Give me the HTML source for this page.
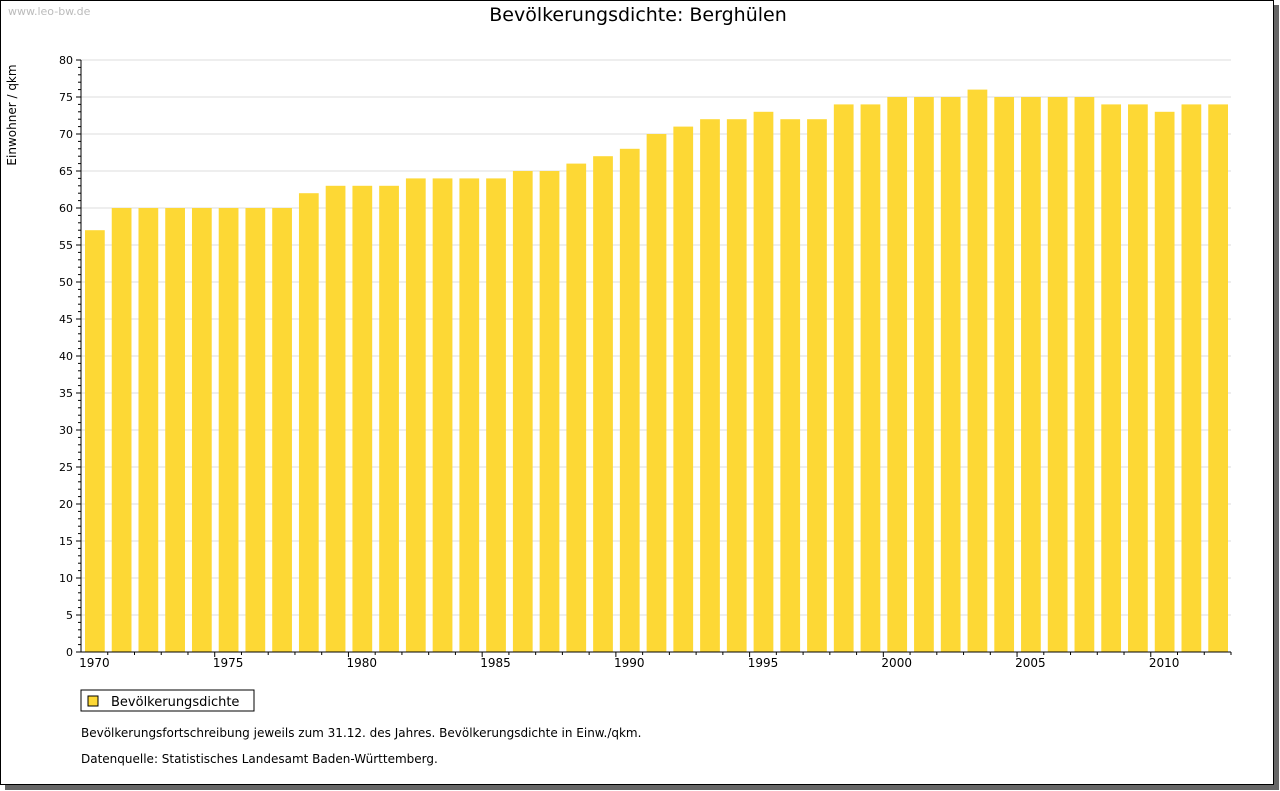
<!DOCTYPE html>
<html><head><meta charset="utf-8">
<style>
body{margin:0;background:#fff;width:1280px;height:791px;overflow:hidden;font-family:"DejaVu Sans","Liberation Sans",sans-serif;}
#frame{position:absolute;left:0;top:0;width:1272px;height:783px;border:1px solid #000;background:#fff;box-shadow:5px 5px 0 #666;}
svg{position:absolute;left:0;top:0}
</style></head><body>
<div id="frame"></div>
<svg id="chart" width="1280" height="791">
<text x="8" y="15" font-size="11" fill="#bbb">www.leo-bw.de</text>
<text x="638" y="21" font-size="19" text-anchor="middle">Bevölkerungsdichte: Berghülen</text>
<text transform="translate(16,115) rotate(-90)" font-size="12" text-anchor="middle">Einwohner / qkm</text>
<g id="grid"></g><g id="bars"></g><g id="axes"></g>
<rect x="81" y="690" width="173" height="21" fill="#fff" stroke="#000"/>
<rect x="88" y="696" width="10" height="10" fill="#fdd835" stroke="#000"/>
<text x="111" y="706" font-size="13">Bevölkerungsdichte</text>
<text x="81" y="737" font-size="12">Bevölkerungsfortschreibung jeweils zum 31.12. des Jahres. Bevölkerungsdichte in Einw./qkm.</text>
<text x="81" y="763" font-size="12">Datenquelle: Statistisches Landesamt Baden-Württemberg.</text>
</svg>
<script>
const years=[1970,1971,1972,1973,1974,1975,1976,1977,1978,1979,1980,1981,1982,1983,1984,1985,1986,1987,1988,1989,1990,1991,1992,1993,1994,1995,1996,1997,1998,1999,2000,2001,2002,2003,2004,2005,2006,2007,2008,2009,2010,2011,2012];
const values=[57,60,60,60,60,60,60,60,62,63,63,63,64,64,64,64,65,65,66,67,68,70,71,72,72,73,72,72,74,74,75,75,75,76,75,75,75,75,74,74,73,74,74];
const yTicks=[0,5,10,15,20,25,30,35,40,45,50,55,60,65,70,75,80];
const NS="http://www.w3.org/2000/svg";
const L=81,R=1231,T=60,B=652,YMAX=80;
const band=(R-L)/years.length;
const y=v=>B-(B-T)*v/YMAX;
const x=i=>L+i*band;
function mk(tag,attrs,parent){const e=document.createElementNS(NS,tag);for(const k in attrs)e.setAttribute(k,attrs[k]);parent.appendChild(e);return e;}
const grid=document.getElementById('grid'),bars=document.getElementById('bars'),axes=document.getElementById('axes');
yTicks.forEach(t=>{
  if(t>0){const g=mk('line',{x1:L,x2:R,y1:y(t),y2:y(t),stroke:'#ddd'},grid);
  
  }
  const lb=mk('text',{x:L-8,y:y(t)+4,'font-size':11,'text-anchor':'end'},axes);lb.textContent=t;
  
  
  mk('line',{x1:L-5,x2:L,y1:y(t),y2:y(t),stroke:'#000'},axes);
});
for(let v=0;v<YMAX;v++){if(v%5)mk('line',{x1:L-3,x2:L,y1:y(v),y2:y(v),stroke:'#000'},axes);}
years.forEach((yr,i)=>{
  const r=mk('rect',{x:x(i)+4,y:y(values[i]),width:band-7,height:B-y(values[i]),fill:'#fdd835'},bars);
  
  
  const tx=x(i+1);
  mk('line',{x1:tx,x2:tx,y1:B,y2:B+(yr%5==4?5:3),stroke:'#000'},axes);
  if(yr%5==0){const lb=mk('text',{x:x(i)+band/2,y:B+15,'font-size':12,'text-anchor':'middle'},axes);lb.textContent=yr;
  
  }
});
mk('line',{x1:L,x2:L,y1:T,y2:B,stroke:'#000'},axes);
mk('line',{x1:L,x2:R,y1:B,y2:B,stroke:'#000'},axes);
</script>
</body></html>
